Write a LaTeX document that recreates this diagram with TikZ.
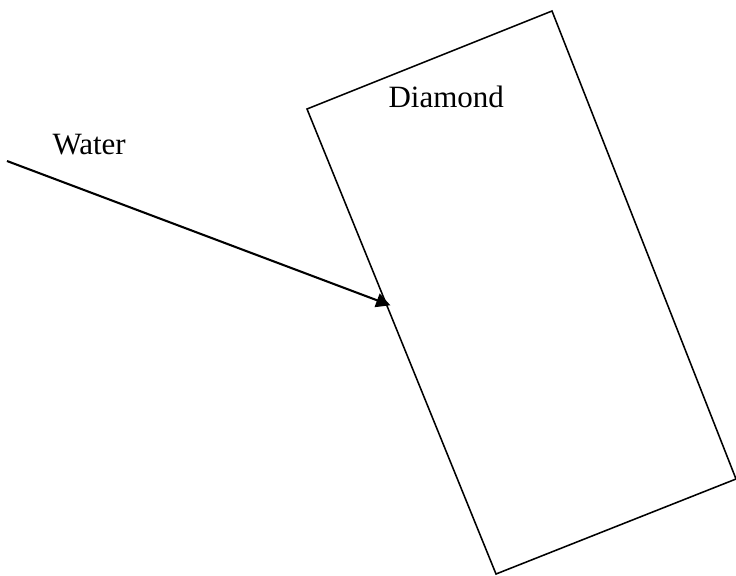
\documentclass[tikz,border=0pt]{standalone}
\usepackage{fontspec}
\setmainfont{Liberation Serif}
\usetikzlibrary{arrows.meta, calc, positioning}

\begin{document}
\begin{tikzpicture}[x=0.387pt, y=-0.387pt,
    label/.style={font=\fontsize{12}{14}\selectfont, inner sep=0pt, anchor=base west},
    ray/.style={line width=0.8pt, -{Triangle[length=5.5pt, width=5.5pt]}}]
  \useasboundingbox (0,0) rectangle (736,575);
  % the stone
  \coordinate (tl) at (307,109);
  \coordinate (tr) at (552,11);
  \coordinate (br) at (736,479);
  \coordinate (bl) at (496,574);
  \draw[line width=0.6pt] (tl) -- (tr) -- (br) -- (bl) -- cycle;
  \node[label] (diamond) at (388,107) {Diamond};

  % incoming ray
  \coordinate (src) at (7,161);
  \coordinate (hit) at ($(tl)!0.42!(bl)+(4,1)$);
  \node[label] (water) at (52,154) {Water};
  \draw[ray] (src) -- (hit);
\end{tikzpicture}
\end{document}
